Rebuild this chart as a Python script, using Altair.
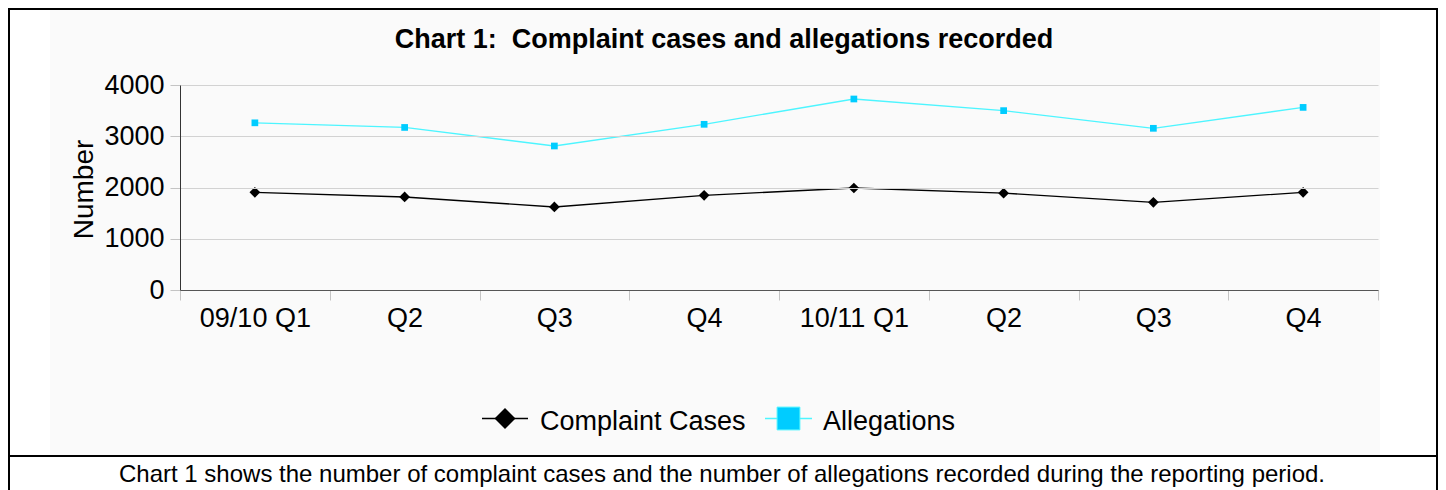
import altair as alt
import pandas as pd

# ---- data ----
period_keys = ["09/10 Q1", "09/10 Q2", "09/10 Q3", "09/10 Q4",
               "10/11 Q1", "10/11 Q2", "10/11 Q3", "10/11 Q4"]
tick_labels = ["09/10 Q1", "Q2", "Q3", "Q4", "10/11 Q1", "Q2", "Q3", "Q4"]
series_names = ["Complaint Cases", "Allegations"]
complaint_cases = [1905, 1815, 1620, 1848, 1990, 1890, 1710, 1906]
allegations = [3262, 3172, 2810, 3233, 3727, 3500, 3155, 3563]
y_ticks = [0, 1000, 2000, 3000, 4000]

title_text = "Chart 1:\u00a0 Complaint cases and allegations recorded"
caption_text = ("Chart 1 shows the number of complaint cases and the number of "
                "allegations recorded during the reporting period.")

FONT = "Liberation Sans"
LINE_COLORS = ["#000000", "#4df5ff"]
FILL_COLORS = ["#000000", "#00ccff"]

df = pd.DataFrame({
    "Period": period_keys * 2,
    "Series": [series_names[0]] * len(period_keys) + [series_names[1]] * len(period_keys),
    "Value": complaint_cases + allegations,
})

W, H = 1198, 205

label_expr = "[{}][indexof([{}], datum.value)]".format(
    ",".join("'%s'" % t for t in tick_labels),
    ",".join("'%s'" % k for k in period_keys),
)

x_enc = alt.X(
    "Period:N",
    sort=period_keys,
    scale=alt.Scale(type="band", paddingInner=0, paddingOuter=0),
    axis=alt.Axis(
        title=None, labelAngle=0, labelFontSize=27, labelFont=FONT, labelColor="#000",
        labelPadding=5, tickSize=10, tickColor="#c4c4c4", domainColor="#555555",
        tickBand="extent", grid=False, labelExpr=label_expr, zindex=1,
    ),
)
y_enc = alt.Y(
    "Value:Q",
    scale=alt.Scale(domain=[0, 4000], nice=False),
    axis=alt.Axis(
        values=y_ticks, format="d", title="Number", titleFontSize=28, titleFont=FONT,
        titleFontWeight="normal", titleColor="#000", titleAngle=270,
        titleX=-88, titleY=104, titleAlign="center", titleBaseline="alphabetic",
        labelFontSize=27, labelFont=FONT, labelColor="#000", labelPadding=6,
        tickSize=10, tickColor="#c4c4c4", domainColor="#333333",
        grid=True, gridColor="#d2d2d2", zindex=1,
    ),
)

color_scale = alt.Scale(domain=series_names, range=LINE_COLORS)
fill_scale = alt.Scale(domain=series_names, range=FILL_COLORS)

base = alt.Chart(df).encode(x=x_enc, y=y_enc)

lines = base.mark_line(strokeWidth=1.3).encode(
    stroke=alt.Stroke("Series:N", scale=color_scale, legend=None),
    detail="Series:N",
)
points = base.mark_point(filled=True, opacity=1).encode(
    fill=alt.Fill("Series:N", scale=fill_scale, legend=None),
    shape=alt.Shape("Series:N", scale=alt.Scale(domain=series_names, range=["diamond", "square"]), legend=None),
    size=alt.Size("Series:N", scale=alt.Scale(domain=series_names, range=[115, 45]), legend=None),
)

one = pd.DataFrame({"a": [0]})

bg = alt.Chart(one).mark_rect(fill="#fafafa").encode(
    x=alt.value(-130), x2=alt.value(1200), y=alt.value(-78), y2=alt.value(370))
border = alt.Chart(one).mark_rect(fill=None, stroke="#000", strokeWidth=2).encode(
    x=alt.value(-171), x2=alt.value(1257), y=alt.value(-76), y2=alt.value(440))
sep = alt.Chart(one).mark_rule(color="#000", strokeWidth=2).encode(
    x=alt.value(-171), x2=alt.value(1257), y=alt.value(371))

title = alt.Chart(one).mark_text(
    text=title_text, font=FONT, fontSize=27, fontWeight="bold", color="#000",
    align="center", baseline="alphabetic").encode(x=alt.value(544), y=alt.value(-37))
caption = alt.Chart(one).mark_text(
    text=caption_text, font=FONT, fontSize=24, color="#000",
    align="center", baseline="alphabetic").encode(x=alt.value(542), y=alt.value(397))

# legend (decoration)
leg_y = 333.5
leg1_line = alt.Chart(one).mark_rule(color=LINE_COLORS[0], strokeWidth=1.3).encode(
    x=alt.value(302), x2=alt.value(348), y=alt.value(leg_y))
leg1_sym = alt.Chart(one).mark_point(shape="diamond", filled=True, size=441, color=FILL_COLORS[0], opacity=1).encode(
    x=alt.value(325), y=alt.value(leg_y))
leg1_txt = alt.Chart(one).mark_text(
    text=series_names[0], font=FONT, fontSize=27, color="#000", align="left",
    baseline="alphabetic").encode(x=alt.value(360), y=alt.value(345))
leg2_line = alt.Chart(one).mark_rule(color=LINE_COLORS[1], strokeWidth=1.3).encode(
    x=alt.value(585), x2=alt.value(632), y=alt.value(leg_y))
leg2_sym = alt.Chart(one).mark_point(shape="square", filled=True, size=520, color=FILL_COLORS[1],
                                     stroke=LINE_COLORS[1], strokeWidth=1, opacity=1).encode(
    x=alt.value(608.5), y=alt.value(leg_y))
leg2_txt = alt.Chart(one).mark_text(
    text=series_names[1], font=FONT, fontSize=27, color="#000", align="left",
    baseline="alphabetic").encode(x=alt.value(643), y=alt.value(345))

chart = alt.layer(
    bg, border, sep, title, caption,
    leg1_line, leg1_sym, leg1_txt, leg2_line, leg2_sym, leg2_txt,
    lines, points,
).properties(
    width=W, height=H,
    padding={"left": 172, "top": 77, "right": 60, "bottom": 200},
    autosize=alt.AutoSizeParams(type="none"),
    background="white",
).configure_view(stroke=None)

chart.save("out.html", embed_options={"renderer": "svg", "actions": False})
